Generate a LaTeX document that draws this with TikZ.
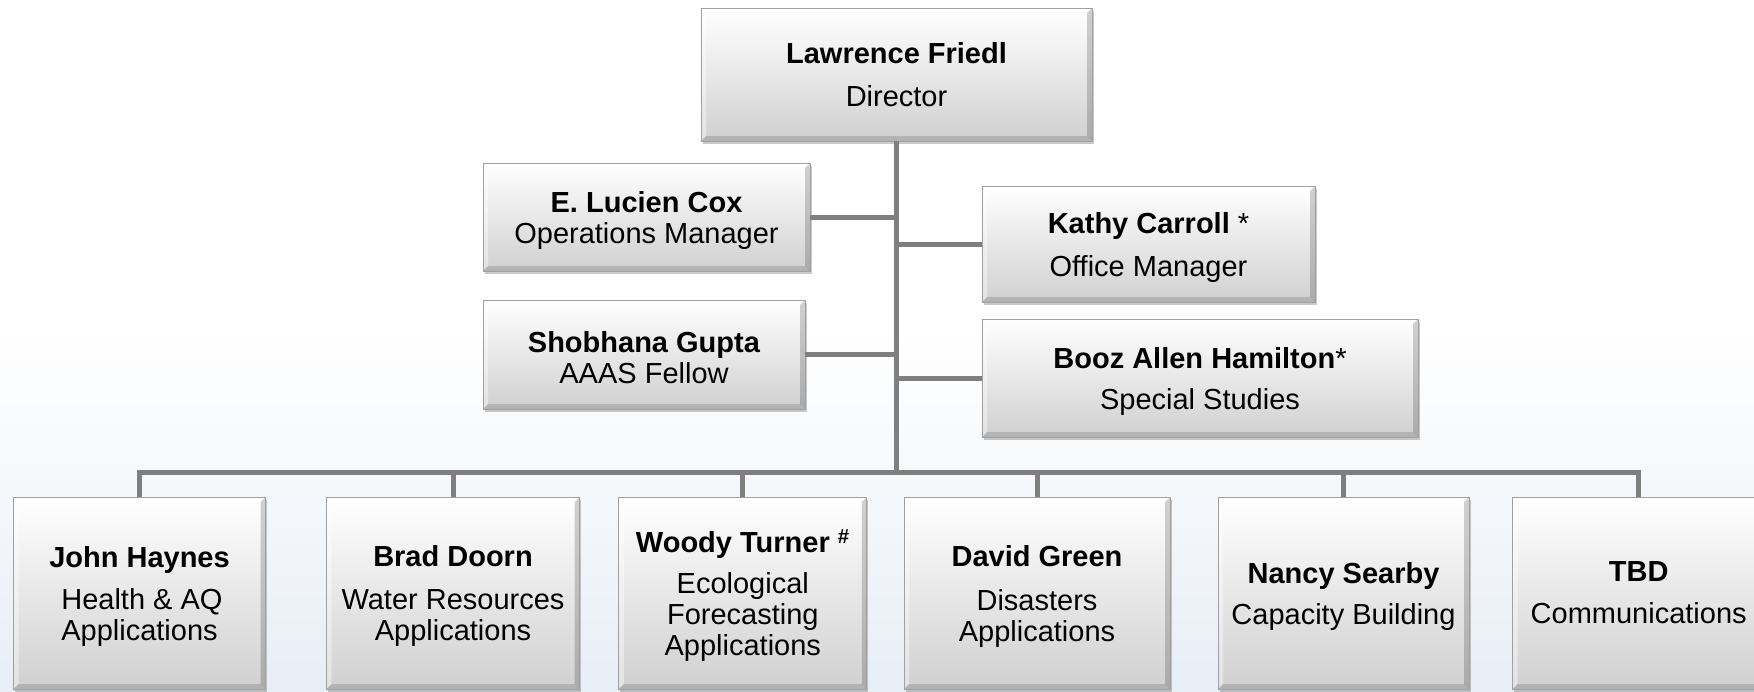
\documentclass[tikz,border=0pt]{standalone}
\usepackage{fontspec}
\setmainfont{Liberation Sans}
\usetikzlibrary{shadows,calc}
\definecolor{bgblue}{HTML}{E8EEF6}
\definecolor{linegray}{HTML}{7F7F7F}
\definecolor{boxbot}{HTML}{D0D0D0}
\definecolor{boxline}{HTML}{A0A0A0}
\newcommand{\topstrut}{\rule{0pt}{28pt}}
\begin{document}
\begin{tikzpicture}[x=1pt,y=-1pt,
  box/.style={draw=boxline, line width=0.8pt, top color=white, bottom color=boxbot,
    inner sep=0pt, align=center, font=\fontsize{29}{31}\selectfont,
    drop shadow={opacity=0.35, shadow xshift=1.5pt, shadow yshift=-3pt, fill=black!60},
    path picture={
      \coordinate (pnw) at (path picture bounding box.north west);
      \coordinate (pne) at (path picture bounding box.north east);
      \coordinate (psw) at (path picture bounding box.south west);
      \coordinate (pse) at (path picture bounding box.south east);
      \fill[white,opacity=.6] (pnw) -- (pne) -- ($(pne)+(-5pt,-5pt)$) -- ($(pnw)+(5pt,-5pt)$) -- cycle;
      \fill[white,opacity=.4] (pnw) -- (psw) -- ($(psw)+(5pt,5pt)$) -- ($(pnw)+(5pt,-5pt)$) -- cycle;
      \fill[black,opacity=.14] (psw) -- (pse) -- ($(pse)+(-5pt,5pt)$) -- ($(psw)+(5pt,5pt)$) -- cycle;
      \fill[black,opacity=.18] (pne) -- (pse) -- ($(pse)+(-5pt,5pt)$) -- ($(pne)+(-5pt,-5pt)$) -- cycle;
    }},
  conn/.style={draw=linegray, line width=5pt}]
\clip (0,0) rectangle (1754,691);
\useasboundingbox (0,0) rectangle (1754,691);
% background
\fill[white] (0,0) rectangle (1754,691);
\shade[top color=white, bottom color=bgblue] (0,330) rectangle (1754,691);

% top
\node[box, minimum width=391pt, minimum height=133pt] (dir) at (896.5,74.5)
  {\textbf{Lawrence Friedl}\\[11.5pt]Director};
\node[box, minimum width=327pt, minimum height=108pt] (cox) at (646.5,217)
  {\topstrut\textbf{E. Lucien Cox}\\Operations Manager};
\node[box, minimum width=322pt, minimum height=109pt] (gupta) at (644,354.5)
  {\topstrut\textbf{Shobhana Gupta}\\AAAS Fellow};
\node[box, minimum width=333pt, minimum height=116pt] (carroll) at (1148.5,244)
  {\topstrut\textbf{Kathy Carroll} *\\[11.5pt]Office Manager};
\node[box, minimum width=436pt, minimum height=118pt] (booz) at (1200,378)
  {\topstrut\textbf{Booz Allen Hamilton}*\\[10pt]Special Studies};

% bottom row
\node[box, minimum width=252pt, minimum height=192pt] (haynes) at (139.5,593)
  {\topstrut\textbf{John Haynes}\\[11pt]\,Health \& AQ\\Applications};
\node[box, minimum width=253pt, minimum height=192pt] (doorn) at (453,593)
  {\topstrut\textbf{Brad Doorn}\\[12pt]Water Resources\\Applications};
\node[box, minimum width=248pt, minimum height=192pt] (turner) at (742.8,593)
  {\topstrut\textbf{Woody Turner \textsuperscript{\#}}\\[10pt]Ecological\\Forecasting\\Applications};
\node[box, minimum width=266pt, minimum height=192pt] (green) at (1037,593)
  {\topstrut\textbf{David Green}\\[13pt]Disasters\\Applications};
\node[box, minimum width=251pt, minimum height=192pt] (searby) at (1343.5,593)
  {\topstrut\textbf{Nancy Searby}\\[11pt]Capacity Building};
\node[box, minimum width=252pt, minimum height=192pt] (tbd) at (1638.7,593)
  {\textbf{TBD}\\[11pt]Communications};

% connectors
\coordinate (bus) at (896.5,472);
\draw[conn] (dir.south) -- (bus);
\draw[conn] (cox.east) -- (cox.east -| bus);
\draw[conn] (gupta.east) -- (gupta.east -| bus);
\draw[conn] (carroll.west) -- (carroll.west -| bus);
\draw[conn] (booz.west) -- (booz.west -| bus);
\draw[conn] (haynes.north) |- (bus) -| (tbd.north);
\draw[conn] (doorn.north) -- (doorn.north |- bus);
\draw[conn] (turner.north) -- (turner.north |- bus);
\draw[conn] (green.north) -- (green.north |- bus);
\draw[conn] (searby.north) -- (searby.north |- bus);
\end{tikzpicture}
\end{document}
